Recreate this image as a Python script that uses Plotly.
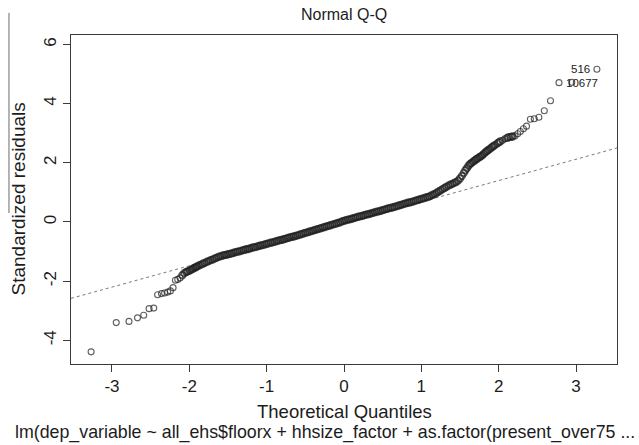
import plotly.graph_objects as go

# ---------------- data ----------------
theoretical_q = [
    -3.27, -2.945, -2.78, -2.67, -2.59, -2.52, -2.46, -2.41, -2.36, -2.32,
    -2.28, -2.245, -2.21, -2.18, -2.15, -2.12, -2.09, -2.065, -2.04, -2.02,
    -1.995, -1.975, -1.955, -1.935, -1.915,
    -1.90, -1.875, -1.85, -1.825, -1.80, -1.775, -1.75, -1.725, -1.70, -1.675,
    -1.65, -1.625, -1.60, -1.575, -1.55, -1.525, -1.50, -1.475, -1.45, -1.425,
    -1.40, -1.375, -1.35, -1.325, -1.30, -1.275, -1.25, -1.225, -1.20, -1.175,
    -1.15, -1.125, -1.10, -1.075, -1.05, -1.025, -1.00, -0.975, -0.95, -0.925,
    -0.90, -0.875, -0.85, -0.825, -0.80, -0.775, -0.75, -0.725, -0.70, -0.675,
    -0.65, -0.625, -0.60, -0.575, -0.55, -0.525, -0.50, -0.475, -0.45, -0.425,
    -0.40, -0.375, -0.35, -0.325, -0.30, -0.275, -0.25, -0.225, -0.20, -0.175,
    -0.15, -0.125, -0.10, -0.075, -0.05, -0.025, 0.00, 0.025, 0.05, 0.075,
    0.10, 0.125, 0.15, 0.175, 0.20, 0.225, 0.25, 0.275, 0.30, 0.325,
    0.35, 0.375, 0.40, 0.425, 0.45, 0.475, 0.50, 0.525, 0.55, 0.575,
    0.60, 0.625, 0.65, 0.675, 0.70, 0.725, 0.75, 0.775, 0.80, 0.825,
    0.85, 0.875, 0.90, 0.925, 0.95, 0.975, 1.00, 1.025, 1.05, 1.075,
    1.10, 1.125, 1.15, 1.175, 1.20, 1.225, 1.25, 1.275, 1.30, 1.325,
    1.35, 1.375, 1.40, 1.425, 1.45, 1.475, 1.50, 1.525, 1.55, 1.57,
    1.59, 1.61, 1.63, 1.65, 1.67, 1.69, 1.71, 1.73, 1.75, 1.77,
    1.79, 1.81, 1.83, 1.85, 1.87, 1.89, 1.91, 1.93, 1.95, 1.98,
    2.00, 2.02, 2.05, 2.08, 2.11, 2.13, 2.16, 2.18, 2.21, 2.245,
    2.28, 2.32, 2.36, 2.41, 2.46, 2.52, 2.59, 2.67, 2.78, 2.945,
    3.27,
]
std_residuals = [
    -4.39, -3.40, -3.36, -3.24, -3.15, -2.93, -2.91, -2.46, -2.42, -2.40,
    -2.37, -2.33, -2.22, -1.97, -1.94, -1.89, -1.80, -1.73, -1.69, -1.67,
    -1.64, -1.61, -1.58, -1.55, -1.53,
    -1.50, -1.47, -1.44, -1.41, -1.38, -1.35, -1.32, -1.29, -1.27, -1.24,
    -1.21, -1.18, -1.16, -1.14, -1.12, -1.11, -1.09, -1.08, -1.06, -1.04,
    -1.02, -1.00, -0.99, -0.97, -0.95, -0.93, -0.92, -0.90, -0.88, -0.86,
    -0.85, -0.83, -0.81, -0.79, -0.78, -0.76, -0.74, -0.72, -0.70, -0.69,
    -0.67, -0.65, -0.63, -0.61, -0.60, -0.58, -0.56, -0.54, -0.52, -0.50,
    -0.49, -0.47, -0.45, -0.43, -0.41, -0.39, -0.37, -0.35, -0.33, -0.31,
    -0.29, -0.27, -0.25, -0.23, -0.21, -0.19, -0.17, -0.15, -0.13, -0.11,
    -0.09, -0.07, -0.05, -0.03, -0.01, 0.02, 0.04, 0.06, 0.08, 0.09,
    0.11, 0.13, 0.15, 0.17, 0.19, 0.20, 0.22, 0.24, 0.26, 0.27,
    0.29, 0.31, 0.33, 0.35, 0.36, 0.38, 0.40, 0.42, 0.44, 0.46,
    0.48, 0.49, 0.51, 0.53, 0.55, 0.57, 0.59, 0.61, 0.63, 0.65,
    0.66, 0.68, 0.70, 0.72, 0.74, 0.76, 0.78, 0.80, 0.82, 0.84,
    0.86, 0.89, 0.92, 0.95, 0.99, 1.03, 1.07, 1.11, 1.15, 1.19,
    1.23, 1.26, 1.29, 1.32, 1.35, 1.40, 1.47, 1.56, 1.66, 1.75,
    1.82, 1.90, 1.96, 2.00, 2.04, 2.08, 2.12, 2.15, 2.19, 2.22,
    2.26, 2.31, 2.36, 2.40, 2.44, 2.48, 2.52, 2.56, 2.60, 2.65,
    2.69, 2.72, 2.76, 2.81, 2.84, 2.87, 2.88, 2.89, 2.91, 2.98,
    3.06, 3.15, 3.24, 3.47, 3.49, 3.54, 3.76, 4.10, 4.71, 4.72,
    5.16,
]

# reference line through the quartiles (qqline)
qqline_intercept = -0.04
qqline_slope = 0.72

# labelled extreme observations
label_text = ["516", "10677"]
label_x = [3.27, 2.78]
label_y = [5.16, 4.71]
label_side = ["right", "left"]

x_ticks = [-3, -2, -1, 0, 1, 2, 3]
y_ticks = [-4, -2, 0, 2, 4, 6]

title_text = "Normal Q-Q"
x_title = "Theoretical Quantiles"
y_title = "Standardized residuals"
sub_caption = "lm(dep_variable ~ all_ehs$floorx + hhsize_factor + as.factor(present_over75 ..."

# ---------------- figure ----------------
X_RANGE = [-3.53, 3.53]
Y_RANGE = [-4.80, 6.32]
FONT = "Liberation Sans, Arial, Helvetica, sans-serif"
INK = "#1c1c1c"
AXIS = "#3a3a3a"

# where observations pile up the overlapping rings render as a solid band;
# emulate that by drawing heavier rings wherever neighbours are very close
n = len(theoretical_q)
sizes, widths = [], []
for i in range(n):
    gaps = []
    if i > 0:
        gaps.append(theoretical_q[i] - theoretical_q[i - 1])
    if i < n - 1:
        gaps.append(theoretical_q[i + 1] - theoretical_q[i])
    g = min(gaps)
    if g <= 0.026:
        sizes.append(6.5)
        widths.append(1.8)
    else:
        sizes.append(6)
        widths.append(1.1)

fig = go.Figure()

# dotted reference line spanning the plotting region
fig.add_trace(go.Scatter(
    x=X_RANGE,
    y=[qqline_intercept + qqline_slope * v for v in X_RANGE],
    mode="lines",
    line=dict(color="#7a7a7a", width=1, dash="dot"),
    hoverinfo="skip",
    showlegend=False,
))

fig.add_trace(go.Scatter(
    x=theoretical_q,
    y=std_residuals,
    mode="markers",
    marker=dict(symbol="circle-open", size=sizes, color=INK,
                line=dict(width=widths, color=INK)),
    showlegend=False,
))

for t, lx, ly, side in zip(label_text, label_x, label_y, label_side):
    fig.add_annotation(
        x=lx, y=ly, xref="x", yref="y", text=t, showarrow=False,
        xanchor="right" if side == "right" else "left",
        xshift=-5 if side == "right" else 5,
        yanchor="middle",
        font=dict(family=FONT, size=11.5, color=INK),
    )

# plot title
fig.add_annotation(
    x=0.5, y=1, xref="paper", yref="paper", yshift=21, yanchor="middle",
    text=title_text, showarrow=False,
    font=dict(family=FONT, size=16, color=INK),
)
# x axis title
fig.add_annotation(
    x=0.5, y=0, xref="paper", yref="paper", yshift=-47, yanchor="middle",
    text=x_title, showarrow=False,
    font=dict(family=FONT, size=18.5, color=INK),
)
# sub caption
fig.add_annotation(
    x=0.455, y=0, xref="paper", yref="paper", yshift=-68, xshift=6,
    yanchor="middle",
    text=sub_caption, showarrow=False,
    font=dict(family=FONT, size=17.8, color=INK),
)
# y axis title
fig.add_annotation(
    x=0, y=0.5, xref="paper", yref="paper", xshift=-53, xanchor="center",
    yanchor="middle", textangle=-90,
    text=y_title, showarrow=False,
    font=dict(family=FONT, size=19, color=INK),
)

# stray vertical rule at the top-left of the scanned figure
fig.add_shape(type="line", xref="paper", yref="paper",
              x0=-0.1136, x1=-0.1136, y0=1.067, y1=0.459,
              line=dict(color="#6a6a6a", width=1))

axis_common = dict(
    showgrid=False, zeroline=False,
    showline=True, mirror=True, linecolor=AXIS, linewidth=1,
    ticks="outside", ticklen=7, tickcolor=AXIS, tickwidth=1,
    tickfont=dict(family=FONT, size=17, color=INK),
)

fig.update_xaxes(range=X_RANGE, tickmode="array", tickvals=x_ticks,
                 ticktext=[str(v) for v in x_ticks], **axis_common)
fig.update_yaxes(range=Y_RANGE, tickmode="array", tickvals=y_ticks,
                 ticktext=[str(v) for v in y_ticks], tickangle=-90,
                 **axis_common)

fig.update_layout(
    width=639, height=445,
    margin=dict(l=71, r=22, t=35, b=81),
    plot_bgcolor="white", paper_bgcolor="white",
    showlegend=False,
    font=dict(family=FONT, color=INK),
)

fig.write_html("out.html")
